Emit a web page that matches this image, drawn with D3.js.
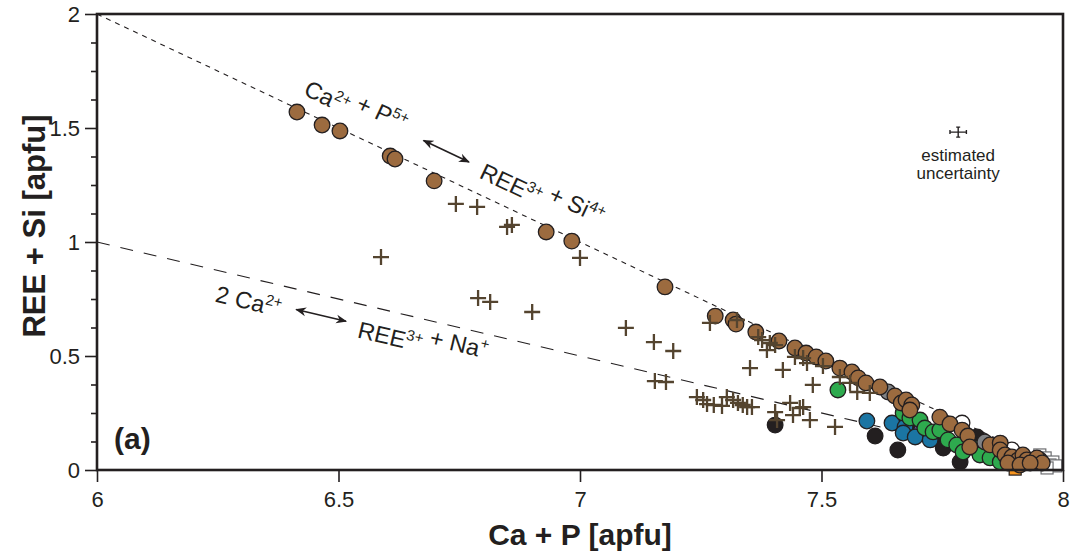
<!DOCTYPE html>
<html><head><meta charset="utf-8">
<script src="https://cdn.jsdelivr.net/npm/d3@7"></script>
<style>body{margin:0;background:#fff}svg{display:block}text{font-family:"Liberation Sans",Arial,sans-serif;fill:#231f20}</style>
</head><body><svg id="c" width="1070" height="552"></svg>
<script>
// ---- data (x = Ca + P, y = REE + Si, apfu) ----
const xTicks = [6, 6.5, 7, 7.5, 8];
const yTicks = [0, 0.5, 1, 1.5, 2];
const brown = [[6.414,1.570],[6.466,1.513],[6.503,1.487],[6.607,1.377],[6.617,1.364],[6.698,1.268],[6.930,1.044],[6.983,1.004],[7.176,0.803],[7.280,0.675],[7.317,0.658],[7.323,0.640],[7.364,0.605],[7.412,0.566],[7.445,0.535],[7.468,0.513],[7.489,0.496],[7.509,0.478],[7.538,0.447],[7.563,0.430],[7.576,0.404],[7.592,0.382],[7.621,0.364],[7.652,0.325],[7.665,0.294],[7.675,0.307],[7.687,0.285],[7.683,0.263],[7.745,0.232],[7.766,0.202],[7.791,0.175],[7.803,0.149],[7.807,0.101],[7.849,0.110],[7.870,0.118],[7.870,0.088],[7.880,0.066],[7.894,0.057],[7.907,0.044],[7.917,0.066],[7.925,0.044],[7.942,0.035],[7.946,0.053],[7.957,0.031],[7.886,0.031],[7.911,0.022],[7.932,0.031]];
const gray = [[7.638,0.342],[7.838,0.123],[7.952,0.044]];
const green = [[7.534,0.351],[7.669,0.250],[7.683,0.228],[7.704,0.219],[7.714,0.184],[7.731,0.167],[7.745,0.175],[7.762,0.132],[7.780,0.110],[7.793,0.079],[7.818,0.096],[7.838,0.110],[7.828,0.066],[7.849,0.053],[7.870,0.035]];
const blue = [[7.594,0.215],[7.646,0.206],[7.673,0.189],[7.669,0.162],[7.694,0.145],[7.725,0.132]];
const black = [[7.404,0.197],[7.611,0.149],[7.658,0.088],[7.677,0.197],[7.750,0.132],[7.752,0.096],[7.797,0.132],[7.822,0.145],[7.787,0.035]];
const white = [[7.791,0.206],[7.863,0.101],[7.894,0.088]];
const purple = [[7.700,0.184]];
const openSquares = [[7.952,0.066],[7.963,0.053],[7.979,0.035],[7.973,0.022],[7.985,0.018],[7.967,0.009]];
const orangeSquares = [[7.901,0.004]];
const plus = [[6.743,1.167],[6.787,1.154],[6.849,1.066],[6.859,1.075],[7.000,0.930],[6.588,0.934],[6.789,0.754],[6.814,0.737],[6.901,0.693],[7.095,0.623],[7.153,0.561],[7.193,0.522],[7.155,0.390],[7.178,0.386],[7.242,0.320],[7.255,0.307],[7.263,0.289],[7.277,0.285],[7.294,0.281],[7.269,0.645],[7.325,0.658],[7.369,0.583],[7.377,0.570],[7.393,0.557],[7.387,0.526],[7.404,0.548],[7.445,0.496],[7.462,0.491],[7.470,0.469],[7.503,0.456],[7.538,0.408],[7.559,0.382],[7.574,0.342],[7.600,0.338],[7.352,0.447],[7.420,0.439],[7.482,0.373],[7.304,0.320],[7.317,0.307],[7.327,0.294],[7.337,0.285],[7.346,0.276],[7.356,0.276],[7.404,0.254],[7.435,0.294],[7.455,0.272],[7.441,0.241],[7.462,0.276],[7.476,0.219],[7.408,0.219],[7.528,0.189]];
const uncertainty = {x: 7.783, y: 1.482, dx: 0.017, dy: 0.022};
const lineCaP = [[6,2],[8,0]];     // Ca2+ + P5+ <-> REE3+ + Si4+
const lineNa = [[6,1],[8,0]];      // 2 Ca2+ <-> REE3+ + Na+

const svg = d3.select("#c");
const L = 97, R = 1063, T = 14, B = 470;
const x = d3.scaleLinear([6,8],[L,R]);
const y = d3.scaleLinear([0,2],[B,T]);
const ink = "#231f20";

// substitution lines
const ln = d3.line().x(d=>x(d[0])).y(d=>y(d[1]));
svg.append("path").attr("d", ln(lineCaP)).attr("fill","none").attr("stroke",ink).attr("stroke-width",1.1).attr("stroke-dasharray","5,5");
svg.append("path").attr("d", ln(lineNa)).attr("fill","none").attr("stroke",ink).attr("stroke-width",1.1).attr("stroke-dasharray","13,11");

// markers
const g = svg.append("g");
function sq(data, fill, stroke){
  g.selectAll(null).data(data).join("rect")
    .attr("x",d=>x(d[0])-6).attr("y",d=>y(d[1])-6).attr("width",12).attr("height",12)
    .attr("fill",fill).attr("stroke",stroke).attr("stroke-width",1.2);
}
function circ(data, fill){
  g.selectAll(null).data(data).join("circle")
    .attr("cx",d=>x(d[0])).attr("cy",d=>y(d[1])).attr("r",7.8)
    .attr("fill",fill).attr("stroke",ink).attr("stroke-width",1.3);
}
sq(openSquares, "#fff", "#6d6e71");
sq(orangeSquares, "#f7941d", ink);
circ(purple, "#6a4c9c");
circ(black, "#231f20");
circ(blue, "#1b75a3");
circ(white, "#ffffff");
circ(green, "#2eaa4e");
circ(gray, "#808285");
circ(brown, "#9c6b3f");
const ps = 8;
g.selectAll(null).data(plus).join("path")
  .attr("d", d=>{const cx=x(d[0]), cy=y(d[1]); return `M${cx-ps},${cy}H${cx+ps}M${cx},${cy-ps}V${cy+ps}`;})
  .attr("stroke","#54442f").attr("stroke-width",2.3).attr("fill","none");

// frame
svg.append("rect").attr("x",L).attr("y",T).attr("width",R-L).attr("height",B-T)
  .attr("fill","none").attr("stroke",ink).attr("stroke-width",2.6);

// axes
const fmt = d => String(d);
const xa = svg.append("g").attr("transform",`translate(0,${B})`)
  .call(d3.axisBottom(x).tickValues(xTicks).tickSize(12).tickPadding(9).tickFormat(fmt));
const ya = svg.append("g").attr("transform",`translate(${L},0)`)
  .call(d3.axisLeft(y).tickValues(yTicks).tickSize(12).tickPadding(5).tickFormat(fmt));
const yMinor = d3.range(0, 2.0001, 0.125).filter(v => Math.abs(v*2 - Math.round(v*2)) > 1e-6);
const ym = svg.append("g").attr("transform",`translate(${L},0)`)
  .call(d3.axisLeft(y).tickValues(yMinor).tickSize(6).tickFormat(""));
[xa,ya,ym].forEach(a=>{
  a.select(".domain").remove();
  a.selectAll("line").attr("stroke",ink).attr("stroke-width",1.6);
  a.selectAll("text").style("font-size","22px").style("font-family",'"Liberation Sans",Arial,sans-serif').attr("fill",ink);
});

// axis titles
svg.append("text").attr("x",(L+R)/2).attr("y",545).attr("text-anchor","middle")
  .style("font-size","30px").style("font-weight","bold").text("Ca + P [apfu]");
svg.append("text").attr("transform",`translate(45,226) rotate(-90)`).attr("text-anchor","middle")
  .style("font-size","31px").style("font-weight","bold").text("REE + Si [apfu]");
svg.append("text").attr("x",114).attr("y",449).style("font-size","30px").style("font-weight","bold").text("(a)");

// annotations along lines
function onLine(line, xv){ const [a,b]=line; const t=(xv-a[0])/(b[0]-a[0]); return [xv, a[1]+t*(b[1]-a[1])]; }
function ang(line){ const [a,b]=line; return Math.atan2(y(b[1])-y(a[1]), x(b[0])-x(a[0]))*180/Math.PI; }
function label(line, xv, off, parts){
  const p = onLine(line, xv);
  const t = svg.append("text").attr("text-anchor","middle")
    .attr("transform",`translate(${x(p[0])},${y(p[1])}) rotate(${ang(line)}) translate(0,${off})`)
    .style("font-size","23.5px");
  parts.forEach(([s,sup])=>{
    if(sup){ t.append("tspan").attr("dy",-9).style("font-size","15px").text(s); t.append("tspan").attr("dy",9).text(""); }
    else t.append("tspan").text(s);
  });
}
function arrow(line, x1, x2, off){
  const a = ang(line)*Math.PI/180, nx = -Math.sin(a)*off, ny = Math.cos(a)*off;
  const p1 = onLine(line,x1), p2 = onLine(line,x2);
  const X1=x(p1[0])+nx, Y1=y(p1[1])+ny, X2=x(p2[0])+nx, Y2=y(p2[1])+ny;
  svg.append("line").attr("x1",X1).attr("y1",Y1).attr("x2",X2).attr("y2",Y2)
    .attr("stroke",ink).attr("stroke-width",1.6).attr("marker-start","url(#ah)").attr("marker-end","url(#ah)");
}
const defs = svg.append("defs");
defs.append("marker").attr("id","ah").attr("viewBox","0 0 10 10").attr("refX",9).attr("refY",5)
  .attr("markerWidth",11).attr("markerHeight",11).attr("orient","auto-start-reverse")
  .attr("markerUnits","userSpaceOnUse").append("path").attr("d","M0,1 L10,5 L0,9 L3,5 Z").attr("fill",ink);

label(lineCaP, 6.512, -15, [["Ca"],["2+",1],[" + P"],["5+",1]]);
label(lineCaP, 6.898, -15, [["REE"],["3+",1],[" + Si"],["4+",1]]);
arrow(lineCaP, 6.654, 6.748, -25);
label(lineNa, 6.325, 31, [["2 Ca"],["2+",1]]);
label(lineNa, 6.685, 33, [["REE"],["3+",1],[" + Na"],["+",1]]);
arrow(lineNa, 6.422, 6.525, 20);

// estimated uncertainty
const ux = x(uncertainty.x), uy = y(uncertainty.y);
const ex = x(uncertainty.x+uncertainty.dx)-ux, ey = uy - y(uncertainty.y+uncertainty.dy);
svg.append("path").attr("d",`M${ux-ex},${uy}H${ux+ex}M${ux},${uy-ey}V${uy+ey}M${ux-ex},${uy-2}V${uy+2}M${ux+ex},${uy-2}V${uy+2}M${ux-2},${uy-ey}H${ux+2}M${ux-2},${uy+ey}H${ux+2}`)
  .attr("stroke",ink).attr("stroke-width",1.4).attr("fill","none");
svg.append("text").attr("x",ux).attr("y",161).attr("text-anchor","middle").style("font-size","17px").text("estimated");
svg.append("text").attr("x",ux).attr("y",179).attr("text-anchor","middle").style("font-size","17px").text("uncertainty");
</script></body></html>
